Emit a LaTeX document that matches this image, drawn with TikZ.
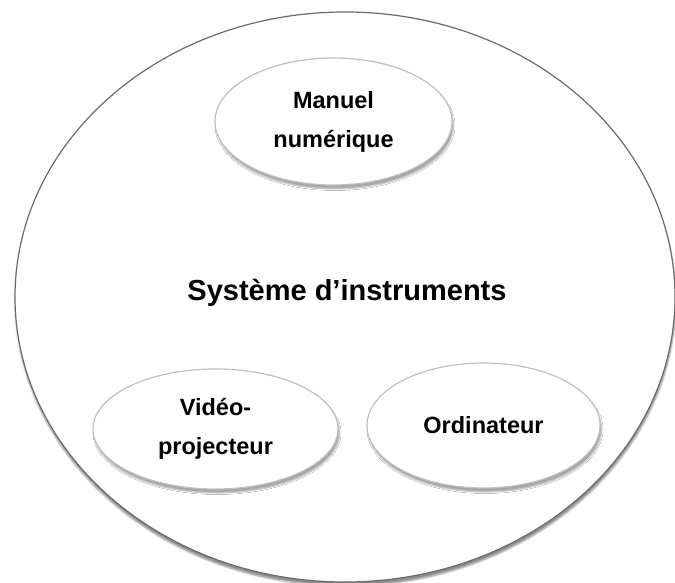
\documentclass[tikz,border=0pt]{standalone}
\usepackage{fontspec}
\setmainfont{Liberation Sans}
\usetikzlibrary{shapes.geometric,shadows.blur}
\begin{document}
\begin{tikzpicture}[x=1pt,y=-1pt,
  bigoval/.style={ellipse,draw=black!58,line width=1.2pt,fill=white,
    minimum width=660pt,minimum height=570pt,inner sep=0pt,
    blur shadow={shadow xshift=0.5pt,shadow yshift=-4pt,shadow blur steps=5,shadow blur radius=1.8pt,shadow opacity=45}},
  smalloval/.style={ellipse,draw=black!25,line width=1.2pt,fill=white,inner sep=0pt,
    align=center,font=\fontsize{23.5}{39}\selectfont\bfseries,
    blur shadow={shadow xshift=1.5pt,shadow yshift=-4pt,shadow blur steps=5,shadow blur radius=1.5pt,shadow opacity=35}},
  title/.style={font=\fontsize{29}{35}\selectfont\bfseries,inner sep=0pt}]
\useasboundingbox (0,0) rectangle (675,583);
\node[bigoval] (sys) at (345,297) {};
\node[title] (lbl) at (347,293) {Système d’instruments};
\node[smalloval,minimum width=237pt,minimum height=127pt] (man) at (333.5,121.5) {Manuel\\numérique};
\node[smalloval,minimum width=245pt,minimum height=120pt] (vid) at (215.5,429) {Vidéo-\\projecteur};
\node[smalloval,minimum width=233pt,minimum height=125pt] (ord) at (483.5,425.5) {Ordinateur};
\end{tikzpicture}
\end{document}
